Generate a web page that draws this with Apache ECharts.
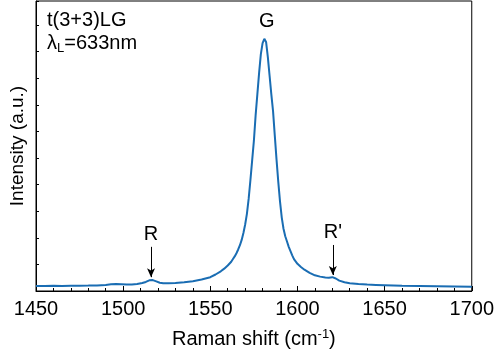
<!DOCTYPE html>
<html>
<head>
<meta charset="utf-8">
<script src="https://cdn.jsdelivr.net/npm/echarts@6/dist/echarts.min.js"></script>
<style>html,body{margin:0;padding:0;background:#fff}#c{width:497px;height:364px}</style>
</head>
<body>
<div id="c"></div>
<script>
const ramanShift = [1450,1455,1460,1465,1470,1475,1480,1485,1490,1493,1496,1499,1502,1505,1508,1511,1513,1515,1516,1517,1519,1521,1523,1526,1530,1535,1540,1545,1550,1553,1556,1558,1560,1562,1563,1564,1565,1566,1567,1568,1569,1570,1571,1572,1573,1574,1575,1576,1577,1578,1579,1580,1581,1582,1583,1584,1585,1586,1587,1588,1589,1590,1591,1592,1593,1594,1595,1596,1597,1598,1600,1602,1604,1607,1610,1613,1616,1618,1620,1622,1624,1627,1630,1635,1640,1645,1650,1660,1670,1680,1690,1700];
const intensity = [0.095,0.095,0.097,0.095,0.098,0.1,0.102,0.105,0.115,0.125,0.13,0.125,0.12,0.122,0.13,0.15,0.17,0.2,0.21,0.205,0.18,0.155,0.145,0.145,0.15,0.165,0.185,0.215,0.26,0.31,0.37,0.42,0.48,0.55,0.6,0.65,0.71,0.78,0.86,0.96,1.09,1.25,1.45,1.73,2.08,2.45,2.82,3.3,3.7,4.1,4.45,4.66,4.74,4.68,4.4,4.05,3.7,3.38,2.92,2.47,2.05,1.68,1.38,1.17,1.03,0.93,0.83,0.75,0.67,0.6,0.51,0.45,0.4,0.34,0.295,0.27,0.255,0.25,0.26,0.235,0.195,0.165,0.145,0.13,0.12,0.115,0.11,0.1,0.095,0.09,0.085,0.08];
const xTicks = [1450,1500,1550,1600,1650,1700];
const peakLabels = ['R', "R'"];
const peakPositions = [1516, 1620.3];
const arrowTop = [0.83, 0.865];
const arrowBottom = [0.26, 0.30];

const font = 'Arial, "Liberation Sans", sans-serif';
const chart = echarts.init(document.getElementById('c'));
const seriesData = ramanShift.map((x, i) => [x, intensity[i]]);
const arrows = peakPositions.map((p, i) => [
  {coord: [p, arrowTop[i]], label: {formatter: peakLabels[i]}},
  {coord: [p, arrowBottom[i]]}
]);

chart.setOption({
  animation: false,
  grid: {left: 36, right: 22, top: 1, bottom: 73, show: true, borderColor: '#000', borderWidth: 1},
  xAxis: {
    type: 'value', min: xTicks[0], max: xTicks[xTicks.length - 1], interval: 50,
    name: '{n|Raman shift (cm}{s|-1}{n|)}', nameLocation: 'middle', nameGap: 37,
    nameTextStyle: {rich: {n: {fontSize: 20, fontFamily: font, color: '#000'}, s: {fontSize: 13, fontFamily: font, color: '#000', verticalAlign: 'top', padding: [0, 0, 10, 0]}}},
    axisLine: {lineStyle: {color: '#000', width: 1}},
    axisTick: {inside: true, length: 5, lineStyle: {color: '#000'}},
    minorTick: {show: true, splitNumber: 5, length: 3, lineStyle: {color: '#000'}},
    axisLabel: {fontSize: 20, fontFamily: font, color: '#000', margin: 8, formatter: v => String(v)},
    splitLine: {show: false}
  },
  yAxis: {
    type: 'value', min: 0, max: 5.45, interval: 0.5,
    name: 'Intensity (a.u.)', nameLocation: 'middle', nameGap: 9,
    nameTextStyle: {fontSize: 19, fontFamily: font, color: '#000'},
    axisLine: {lineStyle: {color: '#000', width: 1}},
    axisTick: {inside: true, length: 3, lineStyle: {color: '#000'}},
    axisLabel: {show: false},
    splitLine: {show: false}
  },
  series: [{
    type: 'line', data: seriesData, showSymbol: false, smooth: false,
    lineStyle: {color: '#1a6db3', width: 2},
    markLine: {
      silent: true, symbol: ['none', 'arrow'], symbolSize: [6, 9],
      lineStyle: {color: '#000', width: 1, type: 'solid'},
      label: {position: 'start', distance: 2, fontSize: 20, fontFamily: font, color: '#000'},
      data: arrows
    }
  }],
  graphic: [
    {type: 'text', left: 47, top: 10, style: {text: 't(3+3)LG', font: '20px ' + font, fill: '#000'}},
    {type: 'text', left: 47, top: 33, style: {text: '{n|λ}{s|L}{n|=633nm}', font: '20px ' + font, fill: '#000',
      rich: {n: {fontSize: 20, fontFamily: font, fill: '#000'}, s: {fontSize: 13, fontFamily: font, fill: '#000', padding: [10, 0, 0, 0]}}}},
    {type: 'text', left: 259, top: 11, style: {text: 'G', font: '20px ' + font, fill: '#000'}}
  ]
});
</script>
</body>
</html>
